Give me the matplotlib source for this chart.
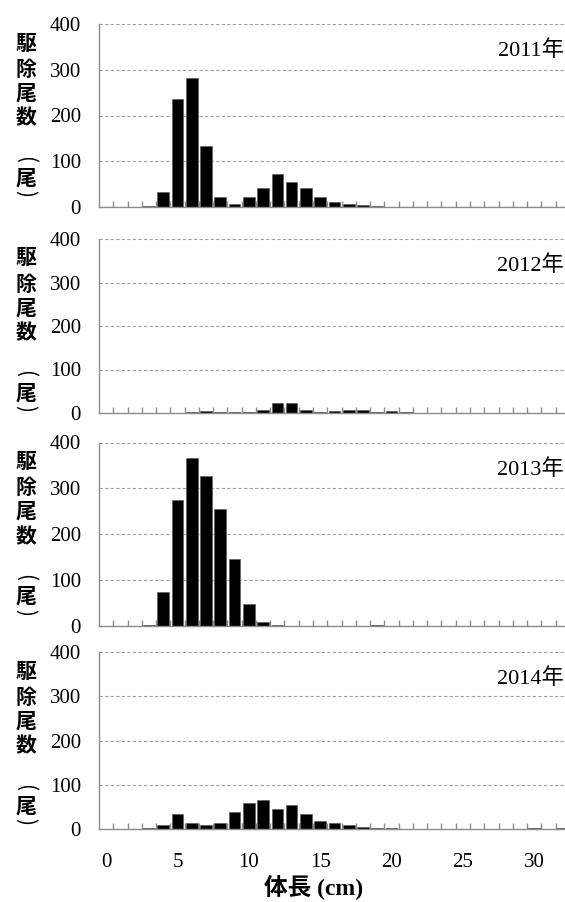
import matplotlib
matplotlib.use('Agg')
import matplotlib.pyplot as plt
import numpy as np

# 体長階級 (cm) と年ごとの駆除尾数
cats = list(range(33))
years = [2011, 2012, 2013, 2014]
n2011 = [0, 0, 0, 2, 33, 235, 282, 134, 21, 7, 21, 42, 72, 55, 42, 21, 11,
         7, 4, 2, 0, 0, 0, 0, 0, 0, 0, 0, 0, 0, 0, 0, 0]
n2012 = [0, 0, 0, 0, 0, 0, 2, 4, 2, 2, 2, 6, 24, 24, 8, 2, 4,
         6, 6, 2, 4, 2, 0, 0, 0, 0, 0, 0, 0, 0, 0, 0, 0]
n2013 = [0, 0, 0, 2, 75, 274, 366, 328, 254, 147, 49, 9, 3, 0, 0, 0, 0,
         0, 0, 2, 0, 0, 0, 0, 0, 0, 0, 0, 0, 0, 0, 0, 0]
n2014 = [0, 0, 0, 2, 9, 34, 14, 8, 14, 39, 58, 65, 45, 55, 34, 18, 14,
         8, 5, 2, 2, 0, 0, 0, 0, 0, 0, 0, 0, 0, 2, 0, 2]
counts = [n2011, n2012, n2013, n2014]
ylab_chars = ['駆', '除', '尾', '数']

plt.rcParams['font.family'] = ['Liberation Serif', 'Noto Sans CJK JP']

W, H = 565, 902
fig = plt.figure(figsize=(W / 100, H / 100), dpi=100)

# 各パネルの上端(400)と下端(0)の位置 (px)
tops = [24, 239, 442.5, 652]
bottoms = [207, 413, 626, 829]
char_off = [19, 45, 69, 94]
grey = '#8c8c8c'
cjk = 'Noto Sans CJK JP'

for i, (yr, vals) in enumerate(zip(years, counts)):
    t, b = tops[i], bottoms[i]
    ax = fig.add_axes([99 / W, 1 - b / H, (W - 99) / W, (b - t) / H])
    ax.bar(cats, vals, width=0.82, color='black', edgecolor='#555555', linewidth=0.4)
    ax.set_xlim(-0.5, 32.16)
    ax.set_ylim(0, 400)
    ax.set_yticks([0, 100, 200, 300, 400])
    ax.yaxis.grid(True, color='#a0a0a0', linestyle=(0, (3, 2)), linewidth=0.8)
    ax.set_axisbelow(True)
    for s in ['top', 'right']:
        ax.spines[s].set_visible(False)
    for s in ['left', 'bottom']:
        ax.spines[s].set_color(grey)
        ax.spines[s].set_linewidth(1.0)
    ax.tick_params(axis='y', length=0, pad=13, labelsize=15)
    ax.set_xticks(range(0, 31, 5))
    ax.set_xticks(np.arange(0.5, 32, 1), minor=True)
    ax.tick_params(axis='x', which='major', length=0, pad=17, labelsize=15)
    ax.tick_params(axis='x', which='minor', direction='in', length=4.5,
                   color=grey, width=1.0)
    if i < 3:
        ax.tick_params(axis='x', labelbottom=False)

    fig.text(564 / W, 1 - (t + 27) / H, f'{yr}年', ha='right', va='center',
             fontsize=16)
    # 縦書きの軸ラベル「駆除尾数（尾）」 括弧は回転して縦書き風に
    for ch, off in zip(ylab_chars, char_off):
        fig.text(26 / W, 1 - (t + off) / H, ch, ha='center', va='center',
                 fontsize=15, family=cjk, fontweight='bold')
    fig.text(25 / W, 1 - (t + 135) / H, '(', ha='center', va='center',
             rotation=-90, fontsize=15, family=cjk)
    fig.text(26 / W, 1 - (t + 154) / H, '尾', ha='center', va='center',
             fontsize=15, family=cjk, fontweight='bold')
    fig.text(25 / W, 1 - (t + 170) / H, ')', ha='center', va='center',
             rotation=-90, fontsize=15, family=cjk)

fig.text(314 / W, 1 - 888 / H, '体長 (cm)', ha='center', va='center',
         fontsize=17, fontweight='bold')

fig.savefig('out.png', dpi=100)
